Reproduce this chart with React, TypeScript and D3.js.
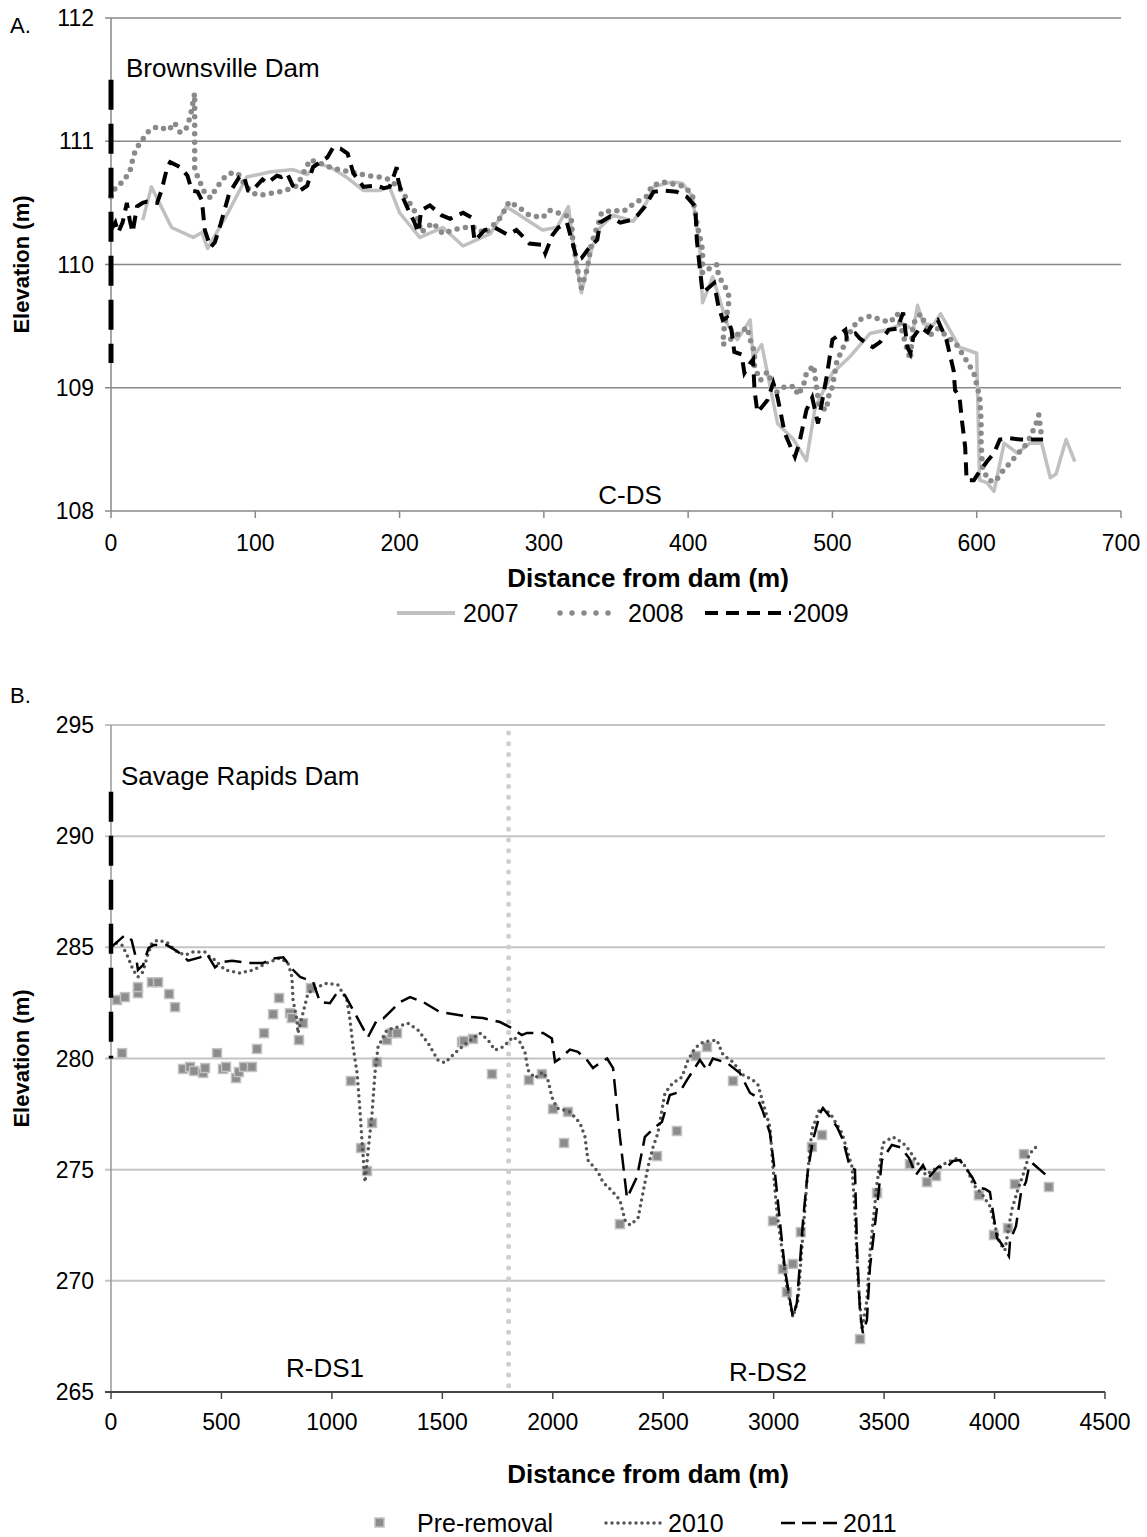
import * as d3 from 'd3';

// ---- Panel A: Brownsville Dam (C-DS) ----
const A_2007: [number, number][] = [
  [22, 110.36], [28, 110.63], [42, 110.3], [57, 110.22], [63, 110.26], [67, 110.13], [82, 110.44],
  [94, 110.71], [110, 110.75], [126, 110.77], [136, 110.73], [143, 110.82], [152, 110.79], [163, 110.71],
  [175, 110.6], [186, 110.6], [193, 110.63], [200, 110.42], [214, 110.22], [230, 110.3], [244, 110.15],
  [263, 110.25], [274, 110.47], [299, 110.28], [309, 110.3], [317, 110.47], [321, 110.12], [326, 109.77],
  [333, 110.12], [339, 110.3], [348, 110.4], [362, 110.35], [371, 110.5], [376, 110.63], [389, 110.67],
  [396, 110.66], [403, 110.55], [408, 110.14], [410, 109.69], [417, 109.9], [427, 109.52], [434, 109.39],
  [443, 109.55], [445, 109.25], [451, 109.35], [457, 109.0], [462, 108.71], [473, 108.58], [482, 108.41],
  [488, 108.84], [500, 109.12], [512, 109.25], [526, 109.44], [538, 109.47], [549, 109.52], [556, 109.47],
  [559, 109.67], [563, 109.52], [570, 109.51], [575, 109.6], [588, 109.33], [600, 109.28], [602, 108.25],
  [607, 108.23], [612, 108.16], [619, 108.55], [628, 108.47], [637, 108.55], [645, 108.55], [651, 108.27],
  [655, 108.3], [662, 108.58], [668, 108.4],
];

const A_2008: [number, number][] = [
  [0, 110.55], [3, 110.62], [8, 110.67], [13, 110.75], [15, 110.85], [17, 110.93], [21, 111.0], [26, 111.08],
  [32, 111.12], [40, 111.09], [44, 111.15], [48, 111.07], [52, 111.1], [55, 111.2], [58, 111.39], [58, 110.77],
  [62, 110.66], [65, 110.58], [69, 110.54], [73, 110.62], [78, 110.7], [82, 110.74], [88, 110.74], [92, 110.66],
  [98, 110.58], [103, 110.56], [112, 110.58], [121, 110.6], [129, 110.64], [138, 110.85], [145, 110.82],
  [154, 110.78], [162, 110.76], [170, 110.74], [178, 110.72], [186, 110.71], [193, 110.69], [200, 110.62],
  [208, 110.48], [212, 110.4], [215, 110.26], [223, 110.34], [230, 110.25], [237, 110.28], [245, 110.3],
  [253, 110.3], [259, 110.25], [270, 110.38], [276, 110.51], [283, 110.46], [290, 110.4], [299, 110.38],
  [304, 110.44], [312, 110.41], [319, 110.38], [320, 110.2], [323, 109.98], [326, 109.81], [330, 109.96],
  [333, 110.17], [338, 110.34], [340, 110.42], [348, 110.44], [355, 110.43], [363, 110.5], [371, 110.55],
  [375, 110.64], [383, 110.67], [391, 110.65], [398, 110.63], [403, 110.56], [406, 110.34], [410, 110.12],
  [410, 109.93], [415, 109.97], [420, 110.0], [421, 109.91], [428, 109.77], [428, 109.67], [425, 109.49],
  [424, 109.35], [434, 109.43], [441, 109.49], [443, 109.39], [446, 109.29], [446, 109.17], [450, 109.06],
  [455, 109.13], [461, 108.96], [467, 109.01], [474, 109.01], [476, 108.94], [480, 109.02], [482, 109.12],
  [487, 109.18], [488, 109.09], [489, 109.0], [491, 108.84], [496, 108.82], [497, 108.92], [500, 109.01],
  [503, 109.21], [506, 109.29], [513, 109.47], [518, 109.55], [526, 109.58], [534, 109.55], [540, 109.53],
  [545, 109.6], [552, 109.3], [554, 109.23], [556, 109.52], [561, 109.6], [568, 109.43], [573, 109.48],
  [586, 109.35], [594, 109.2], [598, 109.12], [602, 108.93], [603, 108.74], [603, 108.55], [604, 108.35],
  [608, 108.25], [613, 108.24], [617, 108.31], [623, 108.39], [629, 108.47], [635, 108.55], [641, 108.7],
  [643, 108.78], [645, 108.6],
];

const A_2009: [number, number][] = [
  [0, 110.28], [3, 110.34], [5, 110.26], [8, 110.34], [11, 110.5], [13, 110.36], [15, 110.26], [18, 110.47],
  [22, 110.5], [25, 110.51], [32, 110.5], [35, 110.6], [39, 110.79], [41, 110.83], [48, 110.79], [53, 110.72],
  [56, 110.6], [60, 110.59], [63, 110.52], [65, 110.28], [69, 110.14], [72, 110.18], [76, 110.33], [82, 110.58],
  [89, 110.71], [92, 110.72], [95, 110.6], [98, 110.6], [105, 110.69], [108, 110.66], [115, 110.72],
  [118, 110.71], [122, 110.74], [126, 110.64], [131, 110.6], [136, 110.64], [140, 110.79], [145, 110.83],
  [150, 110.87], [154, 110.95], [159, 110.94], [164, 110.9], [168, 110.74], [175, 110.63], [184, 110.64],
  [189, 110.62], [193, 110.63], [196, 110.72], [198, 110.79], [199, 110.69], [202, 110.55], [207, 110.42],
  [210, 110.35], [213, 110.26], [215, 110.44], [221, 110.48], [229, 110.4], [235, 110.37], [244, 110.42],
  [250, 110.38], [252, 110.19], [259, 110.28], [266, 110.3], [275, 110.24], [281, 110.28], [286, 110.22],
  [290, 110.17], [299, 110.16], [301, 110.09], [306, 110.24], [310, 110.3], [316, 110.34], [320, 110.17],
  [323, 110.04], [326, 110.05], [331, 110.13], [337, 110.2], [339, 110.34], [346, 110.39], [353, 110.34],
  [360, 110.36], [365, 110.4], [370, 110.47], [376, 110.59], [383, 110.6], [392, 110.59], [399, 110.55],
  [405, 110.47], [406, 110.2], [408, 109.98], [410, 109.77], [415, 109.82], [418, 109.85], [421, 109.66],
  [424, 109.55], [427, 109.57], [430, 109.47], [432, 109.29], [437, 109.27], [439, 109.12], [443, 109.2],
  [445, 109.23], [446, 108.98], [448, 108.8], [455, 108.9], [459, 109.04], [462, 108.92], [467, 108.63],
  [474, 108.44], [477, 108.55], [482, 108.82], [486, 108.92], [490, 108.71], [496, 109.09], [500, 109.39],
  [509, 109.47], [510, 109.4], [516, 109.44], [519, 109.4], [525, 109.35], [528, 109.33], [533, 109.37],
  [539, 109.47], [545, 109.48], [549, 109.61], [552, 109.33], [554, 109.28], [556, 109.41], [561, 109.49],
  [566, 109.45], [570, 109.53], [573, 109.55], [579, 109.39], [584, 109.14], [585, 108.98], [588, 108.93],
  [590, 108.71], [592, 108.52], [593, 108.25], [598, 108.25], [602, 108.32], [607, 108.4], [612, 108.47],
  [616, 108.58], [623, 108.59], [630, 108.58], [636, 108.58], [646, 108.58],
];

const A_DAM: [number, number][] = [[0, 111.5], [0, 109.2]];

const A_X_TICKS = [0, 100, 200, 300, 400, 500, 600, 700];
const A_Y_TICKS = [108, 109, 110, 111, 112];

// ---- Panel B: Savage Rapids Dam (R-DS1, R-DS2) ----
const B_PRE: [number, number][] = [
  [27, 282.63], [63, 282.76], [122, 282.94], [122, 283.21], [185, 283.43], [213, 283.43], [263, 282.9],
  [290, 282.31], [50, 280.24], [326, 279.53], [358, 279.62], [376, 279.44], [417, 279.35], [426, 279.57],
  [480, 280.24], [507, 279.53], [521, 279.62], [566, 279.12], [579, 279.39], [602, 279.62], [638, 279.62],
  [661, 280.43], [693, 281.14], [734, 281.99], [761, 282.72], [810, 282.04], [819, 281.82], [869, 281.59],
  [851, 280.83], [905, 283.17], [1086, 278.99], [1132, 275.97], [1159, 274.94], [1182, 277.1], [1204, 279.84],
  [1249, 280.83], [1272, 281.14], [1295, 281.14], [1589, 280.74], [1598, 280.79], [1639, 280.88],
  [1725, 279.3], [1892, 279.03], [1951, 279.3], [2001, 277.73], [2051, 276.2], [2069, 277.6], [2304, 272.55],
  [2472, 275.61], [2562, 276.74], [2648, 280.11], [2698, 280.52], [2816, 278.99], [2997, 272.69],
  [3042, 270.53], [3060, 269.49], [3087, 270.76], [3123, 272.19], [3173, 276.02], [3219, 276.56],
  [3391, 267.38], [3468, 273.95], [3617, 275.25], [3694, 274.44], [3735, 274.71], [3929, 273.85],
  [3997, 272.06], [4061, 272.37], [4092, 274.35], [4133, 275.7], [4246, 274.22],
];

const B_2010: [number, number][] = [
  [0, 285.3], [9, 285.24], [50, 285.1], [77, 284.56], [100, 283.98], [122, 283.67], [145, 283.9], [163, 284.56],
  [185, 285.19], [213, 285.33], [258, 285.19], [299, 284.79], [335, 284.65], [371, 284.79], [426, 284.79],
  [448, 284.56], [471, 284.43], [516, 283.98], [584, 283.84], [643, 283.98], [706, 284.3], [765, 284.52],
  [801, 284.3], [819, 283.67], [824, 282.63], [842, 281.73], [846, 281.14], [869, 282.04], [892, 282.94],
  [932, 283.21], [978, 283.39], [1028, 283.3], [1068, 282.63], [1082, 281.73], [1096, 280.52], [1114, 279.35],
  [1127, 277.68], [1136, 276.33], [1150, 274.44], [1163, 275.75], [1182, 277.55], [1195, 279.35],
  [1209, 280.52], [1249, 281.28], [1295, 281.41], [1344, 281.59], [1390, 281.28], [1435, 280.7],
  [1480, 279.93], [1512, 279.8], [1557, 280.25], [1611, 280.7], [1670, 281.14], [1707, 280.83],
  [1738, 280.38], [1775, 280.52], [1820, 280.97], [1851, 280.74], [1874, 280.29], [1888, 279.48],
  [1919, 279.12], [1956, 279.39], [1978, 279.03], [1996, 278.27], [2019, 277.77], [2078, 277.6],
  [2123, 277.1], [2146, 276.47], [2159, 275.43], [2205, 274.89], [2227, 274.44], [2273, 273.99],
  [2304, 273.63], [2327, 272.73], [2350, 272.51], [2386, 272.82], [2408, 273.95], [2431, 275.12],
  [2454, 276.02], [2476, 276.65], [2494, 277.68], [2508, 278.45], [2544, 278.9], [2585, 279.17],
  [2612, 279.93], [2644, 280.47], [2680, 280.74], [2743, 280.83], [2771, 280.16], [2816, 279.84],
  [2861, 279.26], [2906, 279.03], [2929, 278.81], [2952, 278.0], [2983, 276.92], [2997, 275.12],
  [3015, 273.05], [3038, 271.38], [3060, 269.72], [3087, 268.37], [3110, 269.13], [3128, 271.52],
  [3151, 274.53], [3173, 276.78], [3210, 277.77], [3255, 277.55], [3309, 276.65], [3355, 275.12],
  [3368, 273.05], [3382, 270.03], [3400, 267.78], [3422, 269.13], [3436, 271.25], [3468, 274.4],
  [3495, 276.2], [3540, 276.47], [3585, 276.2], [3613, 275.88], [3658, 275.2], [3689, 274.76],
  [3744, 275.12], [3789, 275.34], [3834, 275.52], [3875, 275.07], [3902, 274.35], [3943, 273.9],
  [3979, 273.36], [4002, 272.46], [4024, 271.7], [4047, 271.38], [4065, 272.46], [4079, 273.23],
  [4102, 273.99], [4133, 274.89], [4156, 275.66], [4179, 275.97], [4210, 276.11],
];

const B_2011: [number, number][] = [
  [0, 285.0], [63, 285.55], [93, 285.33], [116, 284.4], [122, 283.98], [145, 284.2], [170, 284.97],
  [192, 285.1], [253, 285.1], [303, 284.8], [349, 284.4], [403, 284.55], [434, 284.7], [471, 284.1],
  [502, 284.33], [548, 284.4], [616, 284.3], [690, 284.3], [734, 284.5], [780, 284.55], [825, 283.98],
  [856, 283.67], [915, 283.45], [946, 282.54], [991, 282.49], [1022, 282.94], [1059, 282.85], [1113, 281.87],
  [1163, 280.96], [1204, 281.73], [1233, 281.8], [1308, 282.54], [1354, 282.76], [1413, 282.54],
  [1489, 282.09], [1580, 281.95], [1625, 281.87], [1684, 281.82], [1761, 281.64], [1806, 281.41],
  [1860, 281.05], [1883, 281.15], [1956, 281.15], [1996, 280.9], [2010, 279.85], [2033, 280.0],
  [2078, 280.4], [2114, 280.3], [2155, 279.93], [2182, 279.57], [2214, 279.8], [2246, 280.0], [2273, 279.57],
  [2304, 276.47], [2336, 273.72], [2381, 274.67], [2417, 276.47], [2463, 276.92], [2494, 277.14],
  [2530, 278.36], [2576, 278.5], [2607, 279.03], [2666, 279.93], [2698, 279.48], [2725, 280.0],
  [2789, 279.8], [2847, 279.35], [2893, 278.45], [2924, 278.27], [2952, 277.6], [2983, 276.65],
  [3006, 274.85], [3029, 272.6], [3051, 270.5], [3074, 269.13], [3087, 268.37], [3105, 269.0],
  [3119, 270.8], [3133, 272.73], [3155, 274.98], [3178, 276.33], [3210, 277.54], [3223, 277.77],
  [3255, 277.37], [3287, 276.92], [3314, 276.33], [3345, 275.12], [3368, 275.0], [3377, 271.52],
  [3391, 268.55], [3404, 267.65], [3422, 268.23], [3436, 270.62], [3468, 273.32], [3490, 275.43],
  [3535, 276.11], [3576, 276.0], [3613, 275.52], [3644, 274.76], [3676, 275.2], [3703, 274.67],
  [3744, 275.12], [3780, 275.07], [3812, 275.39], [3843, 275.43], [3866, 275.12], [3898, 274.67],
  [3921, 274.22], [3957, 274.13], [3979, 273.99], [3988, 273.41], [4011, 271.93], [4033, 271.65],
  [4065, 271.11], [4070, 271.79], [4097, 272.46], [4120, 273.99], [4142, 274.44], [4156, 275.12],
  [4170, 275.3], [4233, 274.76],
];

const B_DAM: [number, number][] = [[0, 292], [0, 280]];
const B_DIVIDE = 1800;

const B_X_TICKS = [0, 500, 1000, 1500, 2000, 2500, 3000, 3500, 4000, 4500];
const B_Y_TICKS = [265, 270, 275, 280, 285, 290, 295];

const FONT = '"Liberation Sans", Arial, sans-serif';
const TICK_SIZE = 23;
const NOTE_SIZE = 26;
const LEGEND_SIZE = 25;

const App = () => {
  // panel A scales
  const xA = d3.scaleLinear().domain([0, 700]).range([111, 1121]);
  const yA = d3.scaleLinear().domain([108, 112]).range([511, 18]);
  const lineA = d3.line<[number, number]>().x(d => xA(d[0])).y(d => yA(d[1]));

  // panel B scales
  const xB = d3.scaleLinear().domain([0, 4500]).range([111, 1105]);
  const yB = d3.scaleLinear().domain([265, 295]).range([1392, 725]);
  const lineB = d3.line<[number, number]>().x(d => xB(d[0])).y(d => yB(d[1]));

  return (
    <svg
      width={1147}
      height={1537}
      style={{ position: 'absolute', left: 0, top: 0, background: '#fff' }}
      fontFamily={FONT}
    >
      {/* ===== Panel A ===== */}
      <text x={10} y={33} fontSize={22}>A.</text>
      {A_Y_TICKS.map(t => (
        <g key={`ay${t}`}>
          <line x1={xA(0) - 6} x2={xA(700)} y1={yA(t)} y2={yA(t)} stroke="#888" strokeWidth={1.5} />
          <text x={94} y={yA(t) + 8} fontSize={TICK_SIZE} textAnchor="end">{t}</text>
        </g>
      ))}
      <line x1={xA(0)} x2={xA(0)} y1={yA(112)} y2={yA(108)} stroke="#888" strokeWidth={1.5} />
      {A_X_TICKS.map(t => (
        <g key={`ax${t}`}>
          <line x1={xA(t)} x2={xA(t)} y1={yA(108)} y2={yA(108) + 7} stroke="#888" strokeWidth={1.5} />
          <text x={xA(t)} y={551} fontSize={TICK_SIZE} textAnchor="middle">{t}</text>
        </g>
      ))}
      <path d={lineA(A_2007) ?? ''} fill="none" stroke="#c0c0c0" strokeWidth={3.5} strokeLinejoin="round" />
      <path d={lineA(A_2008) ?? ''} fill="none" stroke="#8a8a8a" strokeWidth={5.5}
        strokeDasharray="0 8.5" strokeLinecap="round" />
      <path d={lineA(A_2009) ?? ''} fill="none" stroke="#000" strokeWidth={4}
        strokeDasharray="13 8" />
      <path d={lineA(A_DAM) ?? ''} fill="none" stroke="#000" strokeWidth={5} strokeDasharray="30 14" />
      <text x={126} y={77} fontSize={NOTE_SIZE}>Brownsville Dam</text>
      <text x={630} y={504} fontSize={NOTE_SIZE} textAnchor="middle">C-DS</text>
      <text x={648} y={587} fontSize={26} fontWeight="bold" textAnchor="middle">Distance from dam (m)</text>
      <text transform={`translate(29,${yA(110)}) rotate(-90)`} fontSize={22} fontWeight="bold" textAnchor="middle">
        Elevation (m)
      </text>
      {/* legend A */}
      <line x1={397} x2={455} y1={613} y2={613} stroke="#c0c0c0" strokeWidth={4} />
      <text x={463} y={622} fontSize={LEGEND_SIZE}>2007</text>
      <line x1={560} x2={620} y1={613} y2={613} stroke="#8a8a8a" strokeWidth={5.5}
        strokeDasharray="0 12" strokeLinecap="round" />
      <text x={628} y={622} fontSize={LEGEND_SIZE}>2008</text>
      <line x1={705} x2={791} y1={613} y2={613} stroke="#000" strokeWidth={4} strokeDasharray="13 8" />
      <text x={793} y={622} fontSize={LEGEND_SIZE}>2009</text>

      {/* ===== Panel B ===== */}
      <text x={10} y={703} fontSize={22}>B.</text>
      {B_Y_TICKS.map(t => (
        <g key={`by${t}`}>
          {t > 265 && (
            <line x1={xB(0) - 6} x2={xB(4500)} y1={yB(t)} y2={yB(t)} stroke="#c4c4c4" strokeWidth={2} />
          )}
          <text x={94} y={yB(t) + 8} fontSize={TICK_SIZE} textAnchor="end">{t}</text>
        </g>
      ))}
      <line x1={xB(0)} x2={xB(0)} y1={yB(295)} y2={yB(265)} stroke="#999" strokeWidth={1.5} />
      <line x1={xB(0) - 6} x2={xB(4500)} y1={yB(265)} y2={yB(265)} stroke="#444" strokeWidth={2} />
      {B_X_TICKS.map(t => (
        <g key={`bx${t}`}>
          <line x1={xB(t)} x2={xB(t)} y1={yB(265)} y2={yB(265) + 7} stroke="#444" strokeWidth={1.5} />
          <text x={xB(t)} y={1430} fontSize={TICK_SIZE} textAnchor="middle">{t}</text>
        </g>
      ))}
      <line x1={xB(B_DIVIDE)} x2={xB(B_DIVIDE)} y1={yB(295) + 8} y2={yB(265)} stroke="#cfcfcf"
        strokeWidth={5} strokeDasharray="0 10.7" strokeLinecap="round" />
      {B_PRE.map((d, i) => (
        <rect key={`pre${i}`} x={xB(d[0]) - 4.5} y={yB(d[1]) - 4.5} width={9} height={9}
          fill="#8c8c8c" stroke="#c2c2c2" strokeWidth={1.5} />
      ))}
      <path d={lineB(B_2010) ?? ''} fill="none" stroke="#555" strokeWidth={3.5}
        strokeDasharray="0 6" strokeLinecap="round" />
      <path d={lineB(B_2011) ?? ''} fill="none" stroke="#000" strokeWidth={2.5}
        strokeDasharray="17 8" />
      <path d={lineB(B_DAM) ?? ''} fill="none" stroke="#000" strokeWidth={4.5} strokeDasharray="30 14" />
      <text x={121} y={785} fontSize={NOTE_SIZE}>Savage Rapids Dam</text>
      <text x={325} y={1377} fontSize={NOTE_SIZE} textAnchor="middle">R-DS1</text>
      <text x={768} y={1381} fontSize={NOTE_SIZE} textAnchor="middle">R-DS2</text>
      <text x={648} y={1483} fontSize={26} fontWeight="bold" textAnchor="middle">Distance from dam (m)</text>
      <text transform={`translate(29,${yB(280)}) rotate(-90)`} fontSize={22} fontWeight="bold" textAnchor="middle">
        Elevation (m)
      </text>
      {/* legend B */}
      <rect x={375} y={1518} width={9} height={9} fill="#8c8c8c" stroke="#c2c2c2" strokeWidth={1.5} />
      <text x={417} y={1532} fontSize={LEGEND_SIZE}>Pre-removal</text>
      <line x1={606} x2={666} y1={1523} y2={1523} stroke="#555" strokeWidth={3.5}
        strokeDasharray="0 6" strokeLinecap="round" />
      <text x={668} y={1532} fontSize={LEGEND_SIZE}>2010</text>
      <line x1={781} x2={841} y1={1523} y2={1523} stroke="#000" strokeWidth={2.5} strokeDasharray="14 7" />
      <text x={843} y={1532} fontSize={LEGEND_SIZE}>2011</text>
    </svg>
  );
};

export default App;
